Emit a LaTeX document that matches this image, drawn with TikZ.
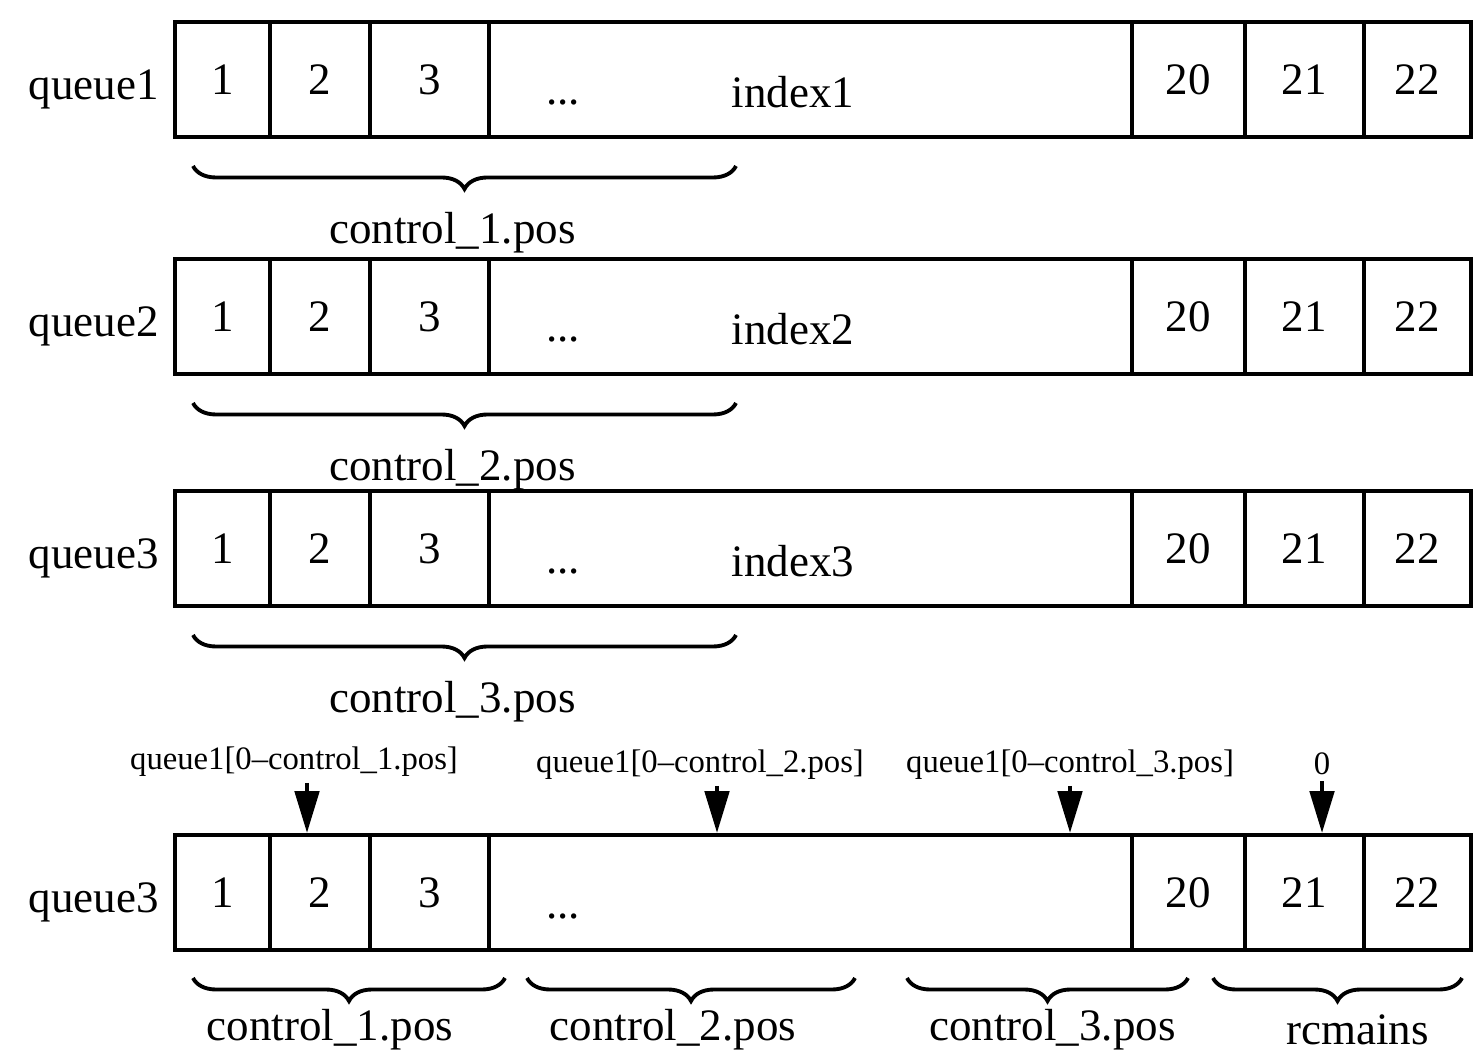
\documentclass[tikz,border=0pt]{standalone}
\usepackage{fontspec}
\setmainfont{Liberation Serif}
\usetikzlibrary{arrows.meta,positioning,decorations.pathreplacing}

\begin{document}
\begin{tikzpicture}[
      font=\fontsize{12.8}{15}\selectfont,
      >={Triangle[length=4.2mm,width=2.4mm,fill=black]},
      cell/.style={rectangle,draw,line width=1.1pt,inner sep=0pt,anchor=south west,
                   minimum height=11.5mm},
      qlbl/.style={anchor=east,inner sep=1pt},
      br/.style={decorate,decoration={brace,mirror,amplitude=2.3mm},line width=1.1pt},
      pl/.style={font=\fontsize{9.3}{11}\selectfont,inner sep=1.5pt},
      ar/.style={->,line width=1.4pt}]
    \useasboundingbox (0,0) rectangle (14.73,10.51);

    % the four queues
    \foreach \r/\yb/\q in {1/9.12/queue1,2/6.75/queue2,3/4.43/queue3,4/0.99/queue3}{
      \foreach \c/\xa/\xb/\t in {1/1.73/2.68/1,2/2.68/3.68/2,3/3.68/4.87/3,4/4.87/11.30/{},
                                 5/11.30/12.43/20,6/12.43/13.62/21,7/13.62/14.69/22}
        \node[cell,minimum width={(\xb-\xa)*1cm}] (r\r-\c) at (\xa,\yb) {\t};
      \node[qlbl] (q\r) at ([xshift=-1mm,yshift=-1mm]r\r-1.west) {\q};
      \node[anchor=base] (d\r) at (5.63,\yb+0.34) {...};
    }
    \foreach \r/\yb in {1/9.12,2/6.75,3/4.43}{
      \node[anchor=base] (ix\r) at (7.93,\yb+0.31) {index\r};
      \draw[br] (1.93,\yb-0.27) -- (7.36,\yb-0.27)
        node[midway,xshift=-1.2mm,yshift=-6.7mm] (cl\r) {control\_\r.pos};
    }

    % bottom braces
    \draw[br] (1.93,0.73) -- (5.05,0.73) node[midway,xshift=-1.9mm,yshift=-5.2mm] (b1) {control\_1.pos};
    \draw[br] (5.27,0.73) -- (8.55,0.73) node[midway,xshift=-1.8mm,yshift=-5.2mm] (b2) {control\_2.pos};
    \draw[br] (9.07,0.73) -- (11.88,0.73) node[midway,xshift=0.5mm,yshift=-5.2mm] (b3) {control\_3.pos};
    \draw[br] (12.13,0.73) -- (14.62,0.73) node[midway,xshift=2mm,yshift=-5.2mm] (b4) {rcmains};

    % pointers into queue3
    \node[pl] (p1) at (2.94,2.89) {queue1[0--control\_1.pos]};
    \node[pl] (p2) at (7.00,2.86) {queue1[0--control\_2.pos]};
    \node[pl] (p3) at (10.70,2.86) {queue1[0--control\_3.pos]};
    \node[pl] (p4) at (13.22,2.87) {0};
    \draw[ar] ([xshift=1.3mm]p1.south) -- ([xshift=1.3mm]p1.south |- r4-2.north);
    \draw[ar] ([xshift=1.7mm]p2.south) -- ([xshift=1.7mm]p2.south |- r4-4.north);
    \draw[ar] (p3.south) -- (p3.south |- r4-4.north);
    \draw[ar] (p4.south) -- (p4.south |- r4-6.north);
  \end{tikzpicture}
\end{document}
